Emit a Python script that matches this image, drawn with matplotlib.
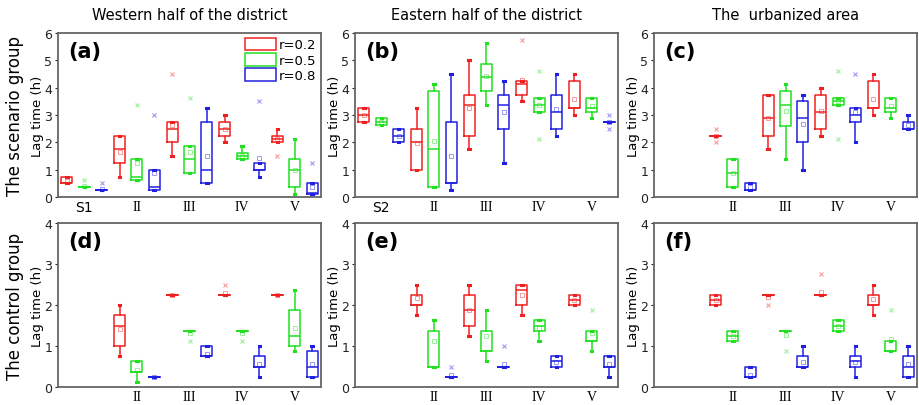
import matplotlib
matplotlib.use("Agg")
import matplotlib.pyplot as plt
from matplotlib.patches import Patch

# each entry: (whisker low, q1, median, q3, whisker high, mean, outliers); None = no box
west_scen = [
    (0.5, 0.5, 0.5, 0.75, 0.75, 0.6, []), (0.375, 0.375, 0.375, 0.375, 0.375, 0.4, [0.625]), (0.25, 0.25, 0.25, 0.25, 0.25, 0.3, [0.5]),
    (0.75, 1.25, 1.75, 2.25, 2.25, 1.66, []), (0.625, 0.625, 0.75, 1.375, 1.375, 1.25, [3.375]), (0.25, 0.25, 0.375, 1.0, 1.0, 0.875, [3.0]),
    (1.5, 2.0, 2.5, 2.75, 2.75, 2.63, [4.5]), (0.875, 0.875, 1.375, 1.875, 1.875, 1.65, [3.625]), (0.5, 0.5, 1.0, 2.75, 3.25, 1.5, []),
    (2.0, 2.25, 2.5, 2.75, 3.0, 2.5, []), (1.375, 1.375, 1.5, 1.625, 1.875, 1.5, []), (0.75, 1.0, 1.0, 1.25, 1.25, 1.43, [3.5]),
    (2.0, 2.0, 2.125, 2.25, 2.5, 2.13, [1.5]), (0.125, 0.375, 1.0, 1.375, 2.125, 1.0, []), (0.125, 0.125, 0.15, 0.5, 0.5, 0.38, [1.25]),
]
east_scen = [
    (2.75, 2.75, 3.0, 3.25, 3.25, 3.0, []), (2.625, 2.625, 2.75, 2.875, 2.875, 2.75, []), (2.0, 2.0, 2.25, 2.5, 2.5, 2.25, []),
    (1.0, 1.0, 2.0, 2.5, 3.25, 1.96, []), (0.375, 0.375, 1.75, 3.875, 4.125, 2.05, []), (0.25, 0.5, 0.5, 2.75, 4.5, 1.5, []),
    (1.75, 2.25, 3.375, 3.75, 5.0, 3.25, []), (3.375, 3.875, 4.375, 4.875, 5.625, 4.43, []), (1.25, 2.5, 3.375, 3.75, 4.25, 3.1, []),
    (3.5, 3.75, 4.125, 4.25, 4.25, 4.27, [5.75]), (3.125, 3.125, 3.375, 3.625, 3.625, 3.375, [4.625, 2.125]), (2.25, 2.5, 3.125, 3.75, 4.5, 3.21, []),
    (3.0, 3.25, 3.25, 4.25, 4.5, 3.58, []), (2.875, 3.125, 3.25, 3.625, 3.625, 3.33, []), (2.75, 2.75, 2.75, 2.75, 2.75, 2.75, [3.0, 2.5]),
]
urban_scen = [
    None, None, None,
    (2.25, 2.25, 2.25, 2.25, 2.25, 2.25, [2.5, 2.0]), (0.375, 0.375, 0.875, 1.375, 1.375, 0.875, []), (0.25, 0.25, 0.25, 0.5, 0.5, 0.35, []),
    (1.75, 2.25, 2.875, 3.75, 3.75, 2.875, []), (1.375, 2.6, 3.375, 3.875, 4.125, 3.13, []), (1.0, 2.0, 2.875, 3.5, 3.75, 2.67, []),
    (2.25, 2.5, 3.125, 3.75, 4.0, 3.14, []), (3.375, 3.375, 3.5, 3.625, 3.625, 3.5, [4.625, 2.125]), (2.0, 2.75, 3.0, 3.25, 3.25, 3.1, [4.5]),
    (3.0, 3.25, 3.25, 4.25, 4.5, 3.58, []), (2.875, 3.125, 3.25, 3.625, 3.625, 3.33, []), (2.5, 2.5, 2.5, 2.75, 3.0, 2.64, []),
]
west_ctrl = [
    None, None, None,
    (0.75, 1.0, 1.5, 1.75, 2.0, 1.41, []), (0.125, 0.375, 0.375, 0.625, 0.625, 0.41, []), (0.25, 0.25, 0.25, 0.25, 0.25, 0.25, []),
    (2.25, 2.25, 2.25, 2.25, 2.25, 2.25, []), (1.375, 1.375, 1.375, 1.375, 1.375, 1.32, [1.125]), (0.75, 0.75, 0.75, 1.0, 1.0, 0.8, []),
    (2.25, 2.25, 2.25, 2.25, 2.25, 2.3, [2.5]), (1.375, 1.375, 1.375, 1.375, 1.375, 1.32, [1.125]), (0.25, 0.5, 0.5, 0.75, 1.0, 0.57, []),
    (2.25, 2.25, 2.25, 2.25, 2.25, 2.25, []), (0.875, 1.0, 1.25, 1.875, 2.375, 1.43, []), (0.25, 0.25, 0.5, 0.875, 1.0, 0.55, []),
]
east_ctrl = [
    None, None, None,
    (1.75, 2.0, 2.0, 2.25, 2.5, 2.16, []), (0.5, 0.5, 0.5, 1.375, 1.625, 1.12, []), (0.25, 0.25, 0.25, 0.25, 0.25, 0.3, [0.5]),
    (1.25, 1.5, 1.875, 2.25, 2.5, 1.875, []), (0.625, 0.875, 0.875, 1.375, 1.875, 1.24, []), (0.5, 0.5, 0.5, 0.5, 0.5, 0.57, [1.0]),
    (1.75, 2.0, 2.375, 2.5, 2.5, 2.24, []), (1.125, 1.375, 1.5, 1.625, 1.625, 1.43, []), (0.5, 0.5, 0.625, 0.75, 0.75, 0.62, []),
    (2.0, 2.0, 2.125, 2.25, 2.25, 2.12, []), (0.875, 1.125, 1.125, 1.375, 1.375, 1.32, [1.875]), (0.25, 0.5, 0.5, 0.75, 0.75, 0.57, []),
]
urban_ctrl = [
    None, None, None,
    (2.0, 2.0, 2.125, 2.25, 2.25, 2.12, []), (1.125, 1.125, 1.25, 1.375, 1.375, 1.25, []), (0.25, 0.25, 0.25, 0.5, 0.5, 0.3, []),
    (2.25, 2.25, 2.25, 2.25, 2.25, 2.2, [2.0]), (1.375, 1.375, 1.375, 1.375, 1.375, 1.28, [0.875]), (0.5, 0.5, 0.5, 0.75, 1.0, 0.61, []),
    (2.25, 2.25, 2.25, 2.25, 2.25, 2.32, [2.75]), (1.375, 1.375, 1.5, 1.625, 1.625, 1.5, []), (0.25, 0.5, 0.625, 0.75, 1.0, 0.62, []),
    (1.75, 2.0, 2.0, 2.25, 2.5, 2.14, []), (0.875, 0.875, 0.875, 1.125, 1.125, 1.16, [1.875]), (0.25, 0.25, 0.5, 0.75, 1.0, 0.55, []),
]

ratios = ["r=0.2", "r=0.5", "r=0.8"]
colors = ["#f02020", "#20e020", "#2020e0"]
col_titles = ["Western half of the district", "Eastern half of the district", "The  urbanized area"]
row_titles = ["The scenario group", "The control group"]
tick_top = [["S1", "II", "III", "IV", "V"], ["S2", "II", "III", "IV", "V"], ["", "II", "III", "IV", "V"]]
tick_bot = ["", "II", "III", "IV", "V"]
letters = ["(a)", "(b)", "(c)", "(d)", "(e)", "(f)"]

panels = [[west_scen, east_scen, urban_scen], [west_ctrl, east_ctrl, urban_ctrl]]

fig = plt.figure(figsize=(9.2, 4.06), dpi=100)
lefts = [58, 355, 654]
tops = [34, 224]
W, H = 263, 164
offs = [-0.33, 0.0, 0.33]

for r in range(2):
    for c in range(3):
        ax = fig.add_axes([lefts[c] / 920, 1 - (tops[r] + H) / 406, W / 920, H / 406])
        data = panels[r][c]
        for k in range(3):
            stats, pos = [], []
            for g in range(5):
                e = data[g * 3 + k]
                if e is None:
                    continue
                lo, q1, med, q3, hi, mean, fl = e
                stats.append(dict(whislo=lo, q1=q1, med=med, q3=q3, whishi=hi, mean=mean, fliers=fl))
                pos.append(g + 1 + offs[k])
            col = colors[k]
            ax.bxp(stats, positions=pos, widths=0.21, showmeans=True, capwidths=0.03,
                   boxprops=dict(color=col, lw=1.1), medianprops=dict(color=col, lw=1.1),
                   whiskerprops=dict(color=col, lw=1.1), capprops=dict(color=col, lw=2.2),
                   meanprops=dict(marker="s", mfc="none", mec=col, ms=3, alpha=0.45, mew=0.7),
                   flierprops=dict(marker="x", mec=col, ms=3, alpha=0.45, mew=0.8))
        ax.set_xlim(0.5, 5.5)
        ax.set_ylim(0, 6 if r == 0 else 4)
        ax.set_yticks(range(0, 7) if r == 0 else range(0, 5))
        ax.set_xticks(range(1, 6))
        labels = tick_top[c] if r == 0 else tick_bot
        ax.set_xticklabels(labels)
        for t in ax.get_xticklabels():
            if t.get_text().startswith("S"):
                t.set_family("DejaVu Sans")
            else:
                t.set_family("Liberation Serif")
            t.set_fontsize(10)
        ax.tick_params(axis="x", length=0, pad=2.5)
        ax.tick_params(axis="y", length=2.5, labelsize=9, pad=1.5, colors="#222222")
        for s in ax.spines.values():
            s.set_color("#666666")
            s.set_linewidth(1.3)
        ax.set_ylabel("Lag time (h)", fontsize=9.5)
        ax.yaxis.set_label_coords(-0.052, 0.5)
        ax.text(0.04, 0.95, letters[r * 3 + c], transform=ax.transAxes, fontsize=15,
                fontweight="bold", va="top", ha="left")
        if r == 0 and c == 0:
            handles = [Patch(facecolor="none", edgecolor=cl, lw=1.1) for cl in colors]
            ax.legend(handles, ratios, loc="upper right", frameon=False, fontsize=9.5,
                      handlelength=2.3, handleheight=1.1, labelspacing=0.12,
                      handletextpad=0.25, borderaxespad=0.15, borderpad=0.2)

for c in range(3):
    fig.text((lefts[c] + W / 2) / 920, 1 - 16 / 406, col_titles[c], ha="center", va="center", fontsize=10.5)
for r in range(2):
    fig.text(15 / 920, 1 - (tops[r] + H / 2) / 406, row_titles[r], rotation=90,
             ha="center", va="center", fontsize=12)

fig.savefig("out.png", dpi=100)
